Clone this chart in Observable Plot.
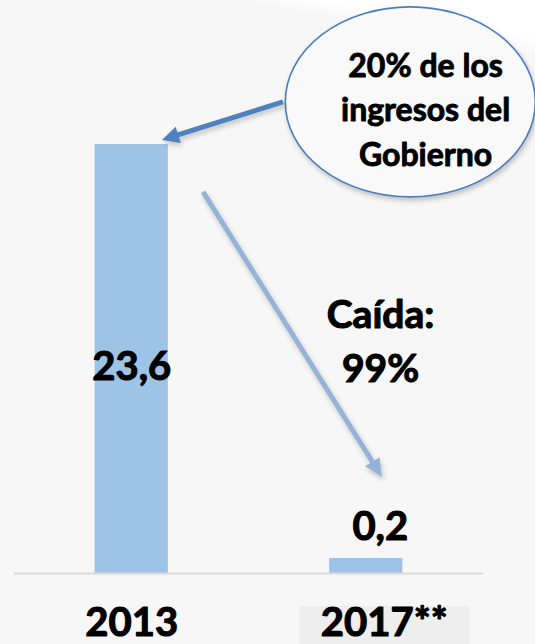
<!DOCTYPE html>
<html><head><meta charset="utf-8">
<script src="https://cdn.jsdelivr.net/npm/d3@7"></script>
<script src="https://cdn.jsdelivr.net/npm/@observablehq/plot@0.6"></script>
<style>
html,body{margin:0;padding:0;}
body{width:535px;height:644px;overflow:hidden;background:#f7f7f7 linear-gradient(190deg,#ffffff 0px,#ffffff 36px,#f7f7f7 54px) no-repeat;}
#chart svg{display:block;}
</style></head><body><div id="chart"></div>
<script>
// ---- data ----
const years = ["2013", "2017**"];
const values = [23.6, 0.2];
const valueLabels = ["23,6", "0,2"];
const calloutLines = ["20% de los", "ingresos del", "Gobierno"];
const dropLines = ["Caída:", "99%"];

const data = years.map((year, i) => ({i, year, value: values[i], label: valueLabels[i]}));

// ---- layout / annotation anchors (in data coordinates) ----
const yFloor = -0.65;
const halfBar = 0.156;
const font = "Lato, 'Open Sans', sans-serif";
const heavy = {fontWeight: "bold", fill: "#000", stroke: "#000", strokeWidth: 1.1};
const callout = {x: 1.19, y: 25.98};
const calloutText = {x: 1.253, y: 25.7};
const dropText = {x: 1.061, y: 12.69};
const arrow1 = {x1: 0.647, y1: 25.98, x2: 0.131, y2: 23.83};
const arrow2 = {x1: 0.306, y1: 20.89, x2: 1.069, y2: 4.78};

const plot = Plot.plot({
  width: 535, height: 644,
  marginLeft: 14, marginRight: 52, marginTop: 144, marginBottom: 71,
  style: {background: "transparent", fontFamily: font, overflow: "visible"},
  x: {type: "linear", domain: [-0.5, 1.5], axis: null},
  y: {domain: [yFloor, 23.6], axis: null},
  marks: [
    Plot.rectY(data, {x1: d => d.i - halfBar, x2: d => d.i + halfBar, y1: yFloor, y2: "value", fill: "#9dc3e6"}),
    Plot.ruleY([yFloor], {stroke: "#d9d9d9", strokeWidth: 2}),
    Plot.text(data.filter(d => d.i === 0), {x: "i", y: d => d.value / 2, text: "label", dy: 14, fontSize: 40, ...heavy}),
    Plot.text(data.filter(d => d.i === 1), {x: "i", y: "value", text: "label", dx: 14, dy: -31, fontSize: 40, ...heavy}),
    Plot.text(data.filter(d => d.i === 0), {x: "i", frameAnchor: "bottom", lineAnchor: "middle", text: "year", dy: 50, fontSize: 40, ...heavy}),
    Plot.text(data.filter(d => d.i === 1), {x: "i", frameAnchor: "bottom", lineAnchor: "middle", text: "year", dx: 18, dy: 50, fontSize: 40, ...heavy, ariaDescription: "year-2017"}),
    Plot.text([calloutText], {x: "x", y: "y", text: () => calloutLines.join("\n"), fontSize: 32, lineHeight: 1.38, ...heavy, strokeWidth: 0.9}),
    Plot.text([dropText], {x: "x", y: "y", text: () => dropLines.join("\n"), fontSize: 39, lineHeight: 1.4, ...heavy})
  ]
});
document.getElementById("chart").appendChild(plot);

// ---- annotations drawn with the plot's scales ----
const svg = d3.select(plot);
const X = v => plot.scale("x").apply(v), Y = v => plot.scale("y").apply(v);
const defs = svg.append("defs");
const f = defs.append("filter").attr("id", "shadow").attr("x", "-20%").attr("y", "-20%").attr("width", "140%").attr("height", "150%");
f.append("feDropShadow").attr("dx", 1.5).attr("dy", 3).attr("stdDeviation", 2.5).attr("flood-color", "#000").attr("flood-opacity", 0.22);

const g = svg.insert("g", 'g[aria-label="text"]');
g.append("ellipse").attr("cx", X(callout.x)).attr("cy", Y(callout.y)).attr("rx", 125).attr("ry", 95)
  .attr("fill", "#f9f9f9").attr("stroke", "#4a7ebb").attr("stroke-width", 1.6).attr("filter", "url(#shadow)");

function arrow(a, color, w, headLen, headW) {
  const x1 = X(a.x1), y1 = Y(a.y1), x2 = X(a.x2), y2 = Y(a.y2);
  const dx = x2 - x1, dy = y2 - y1, L = Math.hypot(dx, dy), ux = dx / L, uy = dy / L;
  const bx = x2 - ux * headLen, by = y2 - uy * headLen;
  const ag = g.append("g").attr("filter", "url(#shadow)");
  ag.append("line").attr("x1", x1).attr("y1", y1).attr("x2", bx + ux * 2).attr("y2", by + uy * 2)
    .attr("stroke", color).attr("stroke-width", w);
  ag.append("path").attr("d", `M${x2},${y2}L${bx - uy * headW / 2},${by + ux * headW / 2}L${bx + uy * headW / 2},${by - ux * headW / 2}Z`)
    .attr("fill", color);
}
arrow(arrow1, "#4f81bd", 5, 17, 17);
arrow(arrow2, "#95b3d7", 5, 18, 17);

// grey box behind the 2017** label
const grp = plot.querySelector('g[aria-description="year-2017"]');
const t = grp && grp.querySelector("text");
if (t) {
  const r = t.getBoundingClientRect(), s = plot.getBoundingClientRect();
  const rect = document.createElementNS("http://www.w3.org/2000/svg", "rect");
  rect.setAttribute("x", r.left - s.left - 22);
  rect.setAttribute("y", Y(yFloor) + 33);
  rect.setAttribute("width", r.width + 44);
  rect.setAttribute("height", 60);
  rect.setAttribute("fill", "#eeeeee");
  grp.parentNode.insertBefore(rect, grp);
}
</script></body></html>
